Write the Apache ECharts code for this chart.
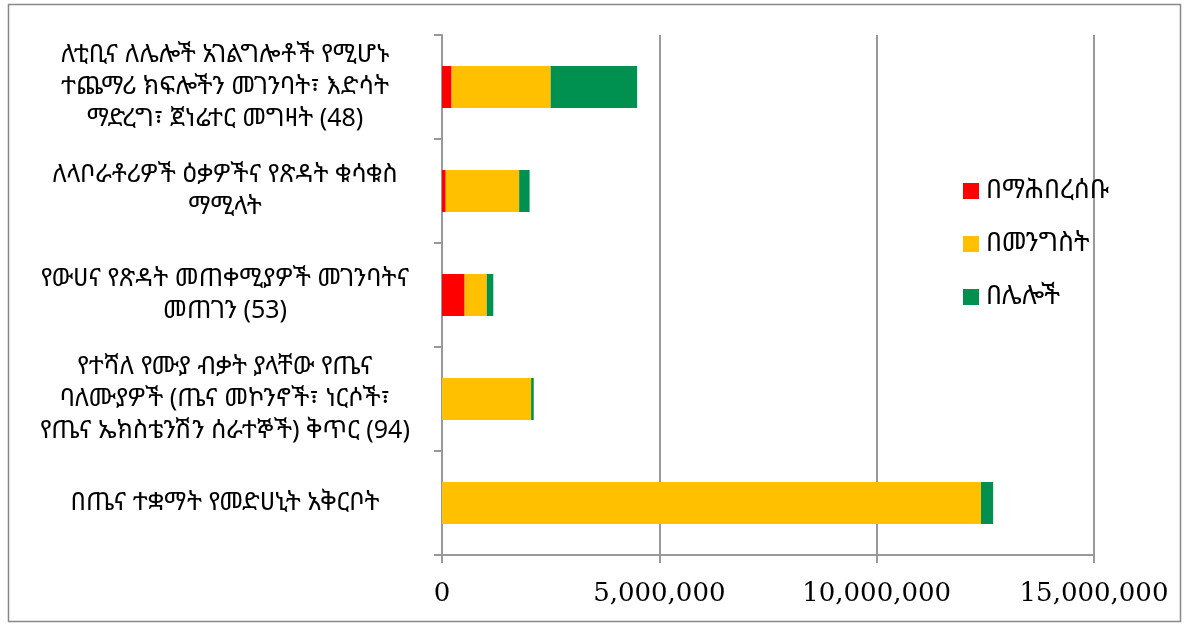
<!DOCTYPE html>
<html>
<head>
<meta charset="utf-8">
<script src="https://cdn.jsdelivr.net/npm/echarts@6/dist/echarts.min.js"></script>
<style>
html,body{margin:0;padding:0;background:#fff;}
#chart{width:1187px;height:625px;}
</style>
</head>
<body>
<div id="chart"></div>
<script>
// Categories (bottom to top as drawn on the y axis)
var categories = [
  'በጤና ተቋማት የመድሀኒት አቅርቦት',
  'የተሻለ የሙያ ብቃት ያላቸው የጤና\nባለሙያዎች (ጤና መኮንኖች፣ ነርሶች፣\nየጤና ኤክስቴንሽን ሰራተኞች) ቅጥር (94)',
  'የውሀና የጽዳት መጠቀሚያዎች መገንባትና\nመጠገን (53)',
  'ለላቦራቶሪዎች ዕቃዎችና የጽዳት ቁሳቁስ\nማሚላት',
  'ለቲቢና ለሌሎች አገልግሎቶች የሚሆኑ\nተጨማሪ ክፍሎችን መገንባት፣ እድሳት\nማድረግ፣ ጀነሬተር መግዛት (48)'
];
var seriesNames = ['በማሕበረሰቡ', 'በመንግስት', 'በሌሎች'];
var community  = [0, 0, 520000, 85000, 220000];
var government = [12400000, 2050000, 510000, 1690000, 2280000];
var others     = [280000, 60000, 150000, 240000, 1990000];
var xTicks = [0, 5000000, 10000000, 15000000];
var colors = ['#ff0000', '#ffc000', '#00904f'];

var chart = echarts.init(document.getElementById('chart'));
var ethFont = '"Noto Sans Ethiopic","Abyssinica SIL","Nyala","DejaVu Sans",sans-serif';
var numFont = '"DejaVu Serif","Liberation Serif",serif';

function mk(i, data) {
  return {
    name: seriesNames[i],
    type: 'bar',
    stack: 'total',
    barWidth: 42,
    data: data,
    itemStyle: { color: colors[i] },
    emphasis: { disabled: true }
  };
}

chart.setOption({
  animation: false,
  backgroundColor: '#fff',
  graphic: [{
    type: 'rect',
    shape: { x: 8.5, y: 4.5, width: 1172, height: 617 },
    style: { fill: 'none', stroke: '#888', lineWidth: 1.5 },
    silent: true
  }],
  grid: { left: 442, right: 93, top: 35, bottom: 70, containLabel: false },
  legend: {
    orient: 'vertical',
    left: 963,
    top: 178,
    padding: 0,
    itemWidth: 16,
    itemHeight: 16,
    itemGap: 27,
    icon: 'rect',
    data: seriesNames,
    textStyle: { fontFamily: ethFont, fontSize: 26, color: '#000', padding: [0, 0, 0, 2] }
  },
  xAxis: {
    type: 'value',
    min: 0,
    max: 15000000,
    interval: 5000000,
    axisLine: { show: true, lineStyle: { color: '#999', width: 2 } },
    axisTick: { show: true, length: 8, inside: false, lineStyle: { color: '#999', width: 2 } },
    splitLine: { show: true, lineStyle: { color: '#999', width: 2 } },
    axisLabel: {
      margin: 26,
      fontFamily: numFont,
      fontSize: 26,
      color: '#000',
      formatter: function (v) { return xTicks.indexOf(v) >= 0 ? v.toLocaleString('en-US') : ''; }
    }
  },
  yAxis: {
    type: 'category',
    data: categories,
    axisLine: { show: true, lineStyle: { color: '#999', width: 2 } },
    axisTick: { show: true, length: 8, lineStyle: { color: '#999', width: 2 } },
    axisLabel: {
      margin: 217,
      align: 'center',
      fontFamily: ethFont,
      fontSize: 25,
      lineHeight: 32,
      color: '#000'
    }
  },
  series: [mk(0, community), mk(1, government), mk(2, others)]
});
</script>
</body>
</html>
